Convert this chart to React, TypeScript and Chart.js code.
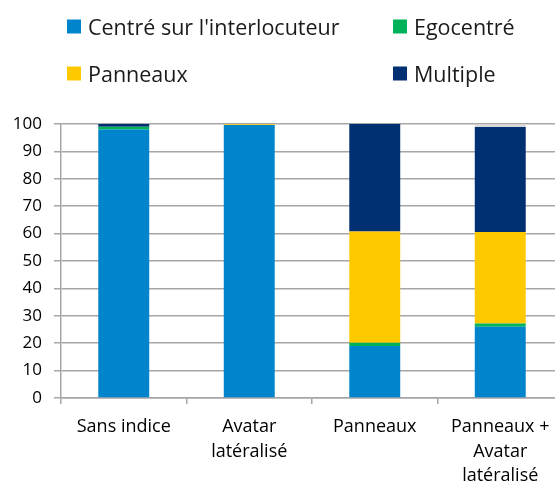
import React, { useEffect, useRef } from "react";
import { Chart, registerables } from "chart.js";

Chart.register(...registerables);

const categories: string[][] = [
  ["Sans indice"],
  ["Avatar", "latéralisé"],
  ["Panneaux"],
  ["Panneaux +", "Avatar", "latéralisé"],
];
const centreInterlocuteur = [98, 99.6, 19, 26];
const egocentre = [1, 0, 1.2, 1.2];
const panneaux = [0, 0.3, 40.6, 33.4];
const multiple = [1, 0, 39.2, 38.3];
const autre = [0, 0, 0, 1];
const yTicks = [0, 10, 20, 30, 40, 50, 60, 70, 80, 90, 100];

const COLORS = {
  blue: "#0085CC",
  green: "#00B25A",
  yellow: "#FFC900",
  navy: "#002F72",
  gray: "#D9D9D9",
};

const FONT = "'Open Sans', 'DejaVu Sans', sans-serif";

const legendItems = [
  { label: "Centré sur l'interlocuteur", color: COLORS.blue, left: 67, top: 26 },
  { label: "Egocentré", color: COLORS.green, left: 393, top: 26 },
  { label: "Panneaux", color: COLORS.yellow, left: 67, top: 73 },
  { label: "Multiple", color: COLORS.navy, left: 393, top: 73 },
];

export default function App() {
  const ref = useRef<HTMLCanvasElement | null>(null);

  useEffect(() => {
    if (!ref.current) return;
    const chart = new Chart(ref.current, {
      type: "bar",
      data: {
        labels: categories,
        datasets: [
          { label: "Centré sur l'interlocuteur", data: centreInterlocuteur, backgroundColor: COLORS.blue },
          { label: "Egocentré", data: egocentre, backgroundColor: COLORS.green },
          { label: "Panneaux", data: panneaux, backgroundColor: COLORS.yellow },
          { label: "Multiple", data: multiple, backgroundColor: COLORS.navy },
          { label: "Autre", data: autre, backgroundColor: COLORS.gray },
        ],
      },
      options: {
        responsive: false,
        animation: false,
        layout: { padding: { top: 124, right: 3, left: 0, bottom: 0 } },
        datasets: { bar: { categoryPercentage: 1, barPercentage: 0.406 } },
        plugins: { legend: { display: false }, tooltip: { enabled: false } },
        scales: {
          x: {
            stacked: true,
            grid: {
              offset: true,
              drawOnChartArea: false,
              drawTicks: true,
              tickLength: 6,
              color: "#a6a6a6",
              lineWidth: 1.5,
            },
            border: { display: true, color: "#a6a6a6", width: 1.5 },
            ticks: {
              color: "#000",
              font: { family: FONT, size: 18, lineHeight: 1.36 },
              padding: 11,
              maxRotation: 0,
              autoSkip: false,
            },
            afterFit: (s: any) => {
              s.height = 86;
            },
          },
          y: {
            stacked: true,
            min: 0,
            max: 100,
            afterBuildTicks: (s: any) => {
              s.ticks = yTicks.map((v) => ({ value: v }));
            },
            grid: { color: "#a6a6a6", lineWidth: 1.5, tickLength: 7 },
            border: { display: true, color: "#a6a6a6", width: 1.5 },
            ticks: {
              color: "#000",
              font: { family: FONT, size: 17 },
              padding: 12,
            },
            afterFit: (s: any) => {
              s.width = 61;
            },
          },
        },
      },
    });
    return () => chart.destroy();
  }, []);

  return (
    <div style={{ position: "absolute", left: 0, top: 0, width: 555, height: 484, background: "#fff", overflow: "hidden" }}>
      <canvas ref={ref} width={566} height={484} style={{ position: "absolute", left: 0, top: 0 }} />
      {legendItems.map((it) => (
        <div
          key={it.label}
          style={{
            position: "absolute",
            left: it.left,
            top: it.top,
            transform: "translateY(-50%)",
            display: "flex",
            alignItems: "center",
            fontFamily: FONT,
            fontSize: 21.5,
            color: "#1a1a1a",
            whiteSpace: "nowrap",
          }}
        >
          <span style={{ display: "inline-block", width: 14, height: 14, background: it.color, marginRight: 7 }} />
          <span>{it.label}</span>
        </div>
      ))}
    </div>
  );
}
